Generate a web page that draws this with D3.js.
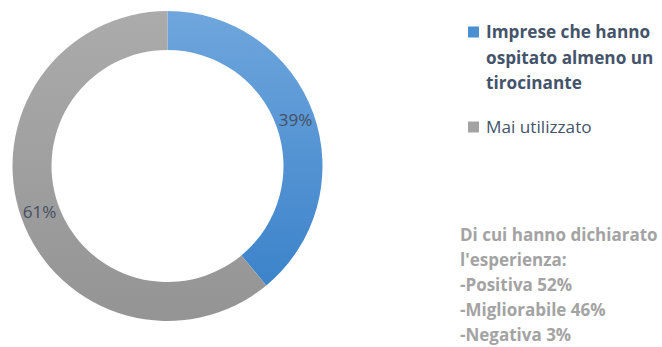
<!DOCTYPE html>
<html>
<head>
<meta charset="utf-8">
<script src="https://cdn.jsdelivr.net/npm/d3@7"></script>
<style>
  body { margin: 0; background: #fff; }
  svg text { font-family: "Open Sans", "Noto Sans", sans-serif; }
</style>
</head>
<body>
<div id="chart"></div>
<script>
const categories = ["Imprese che hanno ospitato almeno un tirocinante", "Mai utilizzato"];
const values = [39, 61];
const legendLines = [["Imprese che hanno", "ospitato almeno un", "tirocinante"], ["Mai utilizzato"]];
const noteLines = ["Di cui hanno dichiarato", "l'esperienza:", "-Positiva 52%", "-Migliorabile 46%", "-Negativa 3%"];

const width = 662, height = 347,
  cx = 167.5, cy = 166,
  outerR = 155, innerR = 116;

const svg = d3.select('#chart').append('svg')
  .attr('width', width)
  .attr('height', height);

// vertical gradients, one per slice, over each slice's own box
const defs = svg.append('defs');
const grads = [["gBlue", "#6fa6dd", "#3c83ca"], ["gGray", "#ababab", "#949494"]];
grads.forEach(g => {
  const lg = defs.append('linearGradient')
    .attr('id', g[0])
    .attr('x1', 0).attr('y1', 0)
    .attr('x2', 0).attr('y2', 1);
  lg.append('stop').attr('offset', '0%').attr('stop-color', g[1]);
  lg.append('stop').attr('offset', '100%').attr('stop-color', g[2]);
});

const color = d3.scaleOrdinal().domain(categories).range(["url(#gBlue)", "url(#gGray)"]);
const swatch = d3.scaleOrdinal().domain(categories).range(["#4a8fd3", "#a3a3a3"]);

const pie = d3.pie().sort(null).value(d => d);
const arc = d3.arc().innerRadius(innerR).outerRadius(outerR);
const labelArc = d3.arc().innerRadius(136).outerRadius(136);

const g = svg.append('g').attr('transform', 'translate(' + cx + ',' + cy + ')');
const arcs = pie(values);

g.selectAll('path')
  .data(arcs)
  .enter()
  .append('path')
  .attr('d', arc)
  .attr('fill', (d, i) => color(categories[i]));

g.selectAll('text.lbl')
  .data(arcs)
  .enter()
  .append('text')
  .attr('class', 'lbl')
  .attr('transform', d => 'translate(' + labelArc.centroid(d) + ')')
  .attr('text-anchor', 'middle')
  .attr('dy', '0.35em')
  .attr('fill', '#454f60')
  .style('font-size', '17px')
  .text(d => d.data + '%');

// legend
const legend = svg.append('g').attr('transform', 'translate(468,0)');
const legendY = [32, 127];
categories.forEach((c, i) => {
  const item = legend.append('g').attr('transform', 'translate(0,' + legendY[i] + ')');
  item.append('rect')
    .attr('x', 0).attr('y', -5.5)
    .attr('width', 11).attr('height', 11)
    .attr('fill', swatch(c));
  item.selectAll('text')
    .data(legendLines[i])
    .enter()
    .append('text')
    .attr('x', 18)
    .attr('y', (d, j) => j * 25.5)
    .attr('dy', '0.35em')
    .attr('fill', '#44546a')
    .style('font-size', '17.2px')
    .style('font-weight', i === 0 ? 'bold' : 'normal')
    .text(d => d);
});

// note
svg.append('g')
  .selectAll('text')
  .data(noteLines)
  .enter()
  .append('text')
  .attr('x', 460)
  .attr('y', (d, i) => 235 + i * 25)
  .attr('dy', '0.35em')
  .attr('fill', '#a3a3a3')
  .style('font-size', '17px')
  .style('font-weight', 'bold')
  .text(d => d);
</script>
</body>
</html>
